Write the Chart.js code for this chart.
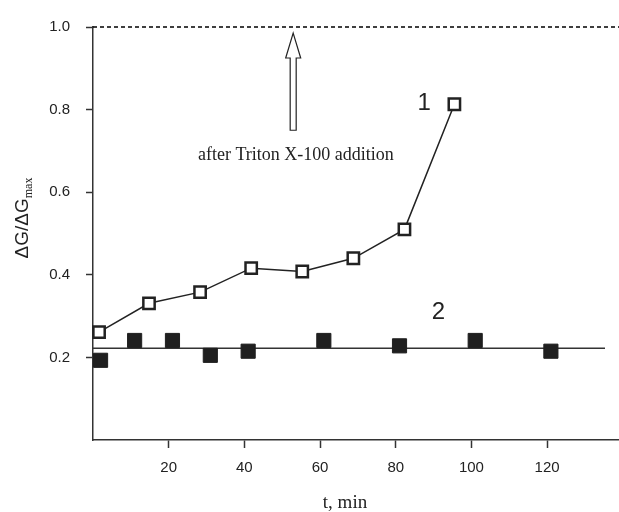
<!DOCTYPE html>
<html><head><meta charset="utf-8">
<script src="https://cdn.jsdelivr.net/npm/chart.js@4.4.1/dist/chart.umd.min.js"></script>
<style>html,body{margin:0;padding:0;background:#fff;} #wrap{width:619px;height:512px;position:relative;}</style>
</head><body><div id="wrap"><canvas id="c" width="619" height="512"></canvas></div>
<script>
// ---- data ----
const series1Time = [1.6, 14.8, 28.3, 41.8, 55.3, 68.8, 82.3, 95.5];
const series1Values = [0.261, 0.331, 0.358, 0.416, 0.408, 0.44, 0.51, 0.813];
const series2Time = [2, 11, 21, 31, 41, 61, 81, 101, 121];
const series2Values = [0.193, 0.241, 0.241, 0.205, 0.215, 0.241, 0.228, 0.241, 0.215];
const series2LevelTime = [0, 135.3];
const series2LevelValues = [0.222, 0.222];
const tritonLevelTime = [0, 139];
const tritonLevelValues = [1.0, 1.0];
const xTicks = [20, 40, 60, 80, 100, 120];
const yTicks = [0.2, 0.4, 0.6, 0.8, 1.0];
const seriesLabels = ['1', '2'];
const annotationText = 'after Triton X-100 addition';
const xTitle = 't, min';
const yTitleMain = 'ΔG/ΔG';
const yTitleSub = 'max';

const pts = (xs, ys) => xs.map((x, i) => ({x: x, y: ys[i]}));
const INK = '#222';

const overlay = {
  id: 'overlay',
  afterDatasetsDraw(chart) {
    const ctx = chart.ctx, xs = chart.scales.x, ys = chart.scales.y;
    ctx.save();
    // arrow
    const ax = xs.getPixelForValue(52.9);
    const tip = ys.getPixelForValue(0.985), hb = ys.getPixelForValue(0.925), bot = ys.getPixelForValue(0.75);
    ctx.beginPath();
    ctx.moveTo(ax, tip);
    ctx.lineTo(ax + 7.5, hb); ctx.lineTo(ax + 3, hb); ctx.lineTo(ax + 3, bot);
    ctx.lineTo(ax - 3, bot); ctx.lineTo(ax - 3, hb); ctx.lineTo(ax - 7.5, hb);
    ctx.closePath();
    ctx.fillStyle = '#fff'; ctx.fill();
    ctx.strokeStyle = INK; ctx.lineWidth = 1.2; ctx.stroke();
    // annotation text
    ctx.fillStyle = INK;
    ctx.textAlign = 'center'; ctx.textBaseline = 'middle';
    ctx.font = '18px "Liberation Serif"';
    ctx.fillText(annotationText, xs.getPixelForValue(53.6), ys.getPixelForValue(0.69));
    // series labels
    ctx.font = '24px "Liberation Sans"';
    ctx.fillText(seriesLabels[0], xs.getPixelForValue(87.5), ys.getPixelForValue(0.816));
    ctx.fillText(seriesLabels[1], xs.getPixelForValue(91.3), ys.getPixelForValue(0.309));
    // x title
    ctx.font = '19px "Liberation Serif"';
    ctx.fillText(xTitle, 345, 503);
    // y title with subscript
    ctx.translate(21, 218);
    ctx.rotate(-Math.PI / 2);
    ctx.textAlign = 'left'; ctx.textBaseline = 'alphabetic';
    const fMain = '19px "Liberation Sans"', fSub = '12px "Liberation Serif"';
    ctx.font = fMain; const w1 = ctx.measureText(yTitleMain).width;
    ctx.font = fSub; const w2 = ctx.measureText(yTitleSub).width;
    const start = -(w1 + w2) / 2;
    ctx.font = fMain; ctx.fillText(yTitleMain, start, 7);
    ctx.font = fSub; ctx.fillText(yTitleSub, start + w1, 11);
    ctx.restore();
  }
};

new Chart(document.getElementById('c'), {
  type: 'line',
  data: {
    datasets: [
      { label: 'series 1', data: pts(series1Time, series1Values), borderColor: INK, borderWidth: 1.5,
        pointStyle: 'rect', pointRadius: 8, pointBorderWidth: 2.5, pointBackgroundColor: '#fff',
        pointBorderColor: INK, tension: 0, clip: false },
      { label: 'series 2', data: pts(series2Time, series2Values), showLine: false,
        pointStyle: 'rect', pointRadius: 10, pointBorderWidth: 1, pointBackgroundColor: '#1f1f1f',
        pointBorderColor: '#1f1f1f', clip: false },
      { label: 'series 2 level', data: pts(series2LevelTime, series2LevelValues), borderColor: '#333',
        borderWidth: 1.5, pointRadius: 0 },
      { label: 'Triton level', data: pts(tritonLevelTime, tritonLevelValues), borderColor: '#000',
        borderWidth: 1.4, borderDash: [4, 3], pointRadius: 0, clip: false }
    ]
  },
  options: {
    responsive: false, devicePixelRatio: 1, animation: false,
    layout: { autoPadding: false, padding: { top: 27, right: 0, left: 0, bottom: 0 } },
    plugins: { legend: { display: false }, tooltip: { enabled: false } },
    scales: {
      x: {
        type: 'linear', position: 'bottom', min: 0, max: 139,
        afterBuildTicks: s => { s.ticks = xTicks.map(v => ({value: v})); },
        afterFit: s => { s.height = 72; s.paddingLeft = 0; s.paddingRight = 0; },
        grid: { drawOnChartArea: false, drawTicks: true, tickLength: 8, tickColor: '#333', tickWidth: 1.5 },
        border: { color: '#333', width: 1.5 },
        ticks: { font: { family: 'Liberation Sans', size: 15 }, color: INK, padding: 11, maxRotation: 0, autoSkip: false,
                 callback: v => String(v) },
        title: { display: false }
      },
      y: {
        type: 'linear', position: 'left', min: 0, max: 1.0,
        afterBuildTicks: s => { s.ticks = yTicks.map(v => ({value: v})); },
        afterFit: s => { s.width = 93; s.paddingTop = 0; s.paddingBottom = 0; },
        grid: { drawOnChartArea: false, drawTicks: true, tickLength: 7, tickColor: '#333', tickWidth: 1.5 },
        border: { color: '#333', width: 1.5 },
        ticks: { font: { family: 'Liberation Sans', size: 15 }, color: INK, padding: 16,
                 callback: v => Number(v).toFixed(1) }
      }
    }
  },
  plugins: [overlay]
});
</script></body></html>
